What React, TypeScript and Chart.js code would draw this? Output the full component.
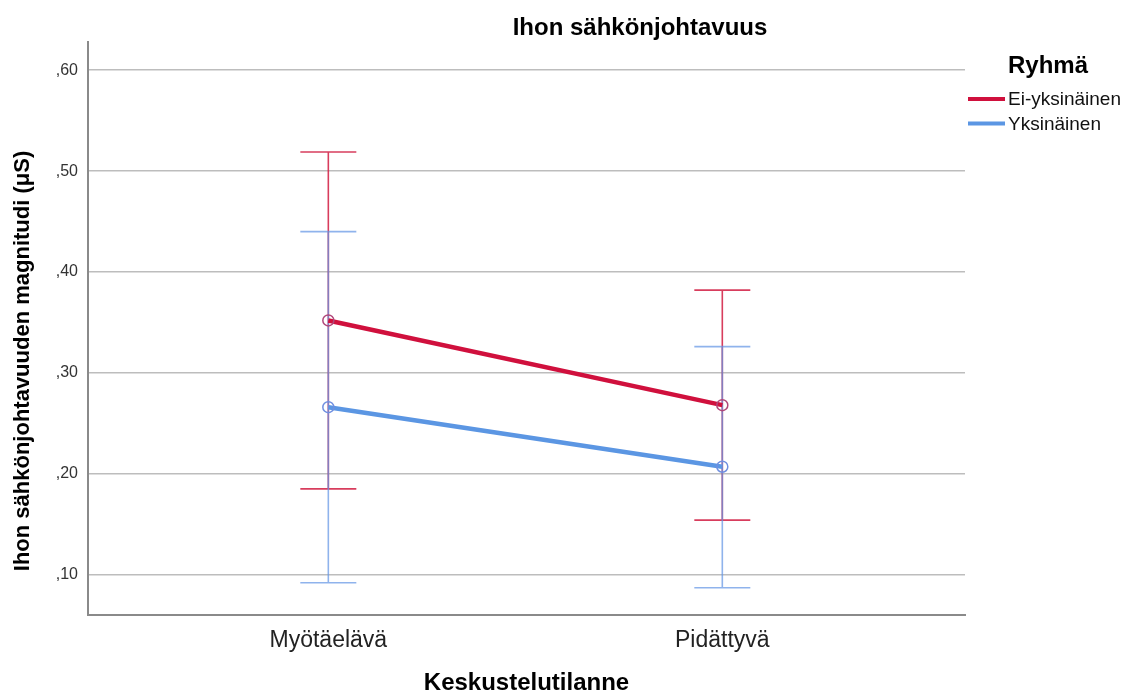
import React, { useEffect, useRef } from "react";
import { Chart, registerables } from "chart.js";

Chart.register(...registerables);

const categories = ["Myötäelävä", "Pidättyvä"];
const seriesNames = ["Ei-yksinäinen", "Yksinäinen"];
const eiMean = [0.352, 0.268];
const eiLower = [0.185, 0.154];
const eiUpper = [0.519, 0.382];
const yksMean = [0.266, 0.207];
const yksLower = [0.092, 0.087];
const yksUpper = [0.44, 0.326];
const yTicks = [0.1, 0.2, 0.3, 0.4, 0.5, 0.6];

const RED = "#d0103d";
const BLUE = "#5b96e3";
const FONT = "'Liberation Sans', Arial, sans-serif";

const errorBarPlugin = {
  id: "errorBars",
  beforeDatasetsDraw(chart: any) {
    const { ctx, scales } = chart;
    const xs = scales.x;
    const ys = scales.y;
    const groups = [
      { lo: eiLower, hi: eiUpper, color: "rgba(212,40,75,0.9)" },
      { lo: yksLower, hi: yksUpper, color: "rgba(100,150,228,0.72)" },
    ];
    ctx.save();
    ctx.lineWidth = 1.6;
    groups.forEach((g) => {
      ctx.strokeStyle = g.color;
      categories.forEach((_, i) => {
        const x = xs.getPixelForValue(i);
        const yl = ys.getPixelForValue(g.lo[i]);
        const yh = ys.getPixelForValue(g.hi[i]);
        ctx.beginPath();
        ctx.moveTo(x, yl);
        ctx.lineTo(x, yh);
        ctx.moveTo(x - 28, yl);
        ctx.lineTo(x + 28, yl);
        ctx.moveTo(x - 28, yh);
        ctx.lineTo(x + 28, yh);
        ctx.stroke();
      });
    });
    ctx.restore();
  },
  afterDraw(chart: any) {
    const { ctx } = chart;
    ctx.save();
    ctx.fillStyle = "#000";
    ctx.textBaseline = "alphabetic";
    ctx.textAlign = "center";
    ctx.font = `bold 24px ${FONT}`;
    ctx.fillText("Ihon sähkönjohtavuus", 640, 35);

    // y-axis title
    ctx.save();
    ctx.translate(23, 361);
    ctx.rotate(-Math.PI / 2);
    ctx.textBaseline = "middle";
    ctx.font = `bold 22px ${FONT}`;
    ctx.fillText("Ihon sähkönjohtavuuden magnitudi (μS)", 0, 0);
    ctx.restore();

    ctx.textAlign = "left";
    ctx.font = `bold 24px ${FONT}`;
    ctx.fillText("Ryhmä", 1008, 73);
    const items = [
      { name: seriesNames[0], color: RED, y: 99 },
      { name: seriesNames[1], color: BLUE, y: 123.5 },
    ];
    ctx.font = `19px ${FONT}`;
    ctx.textBaseline = "middle";
    items.forEach((it) => {
      ctx.strokeStyle = it.color;
      ctx.lineWidth = 4;
      ctx.beginPath();
      ctx.moveTo(968, it.y);
      ctx.lineTo(1005, it.y);
      ctx.stroke();
      ctx.fillStyle = "#111";
      ctx.fillText(it.name, 1008, it.y + 1);
    });
    ctx.restore();
  },
};

export default function App() {
  const ref = useRef<HTMLCanvasElement>(null);
  useEffect(() => {
    if (!ref.current) return;
    const chart = new Chart(ref.current, {
      type: "line",
      data: {
        datasets: [
          {
            label: seriesNames[0],
            data: eiMean.map((v, i) => ({ x: i, y: v })),
            borderColor: RED,
            borderWidth: 4.5,
            pointRadius: 5.5,
            pointBorderWidth: 1.5,
            pointBorderColor: "#b0477a",
            pointBackgroundColor: "rgba(0,0,0,0)",
          },
          {
            label: seriesNames[1],
            data: yksMean.map((v, i) => ({ x: i, y: v })),
            borderColor: BLUE,
            borderWidth: 4.5,
            pointRadius: 5.5,
            pointBorderWidth: 1.5,
            pointBorderColor: "#6f8fe0",
            pointBackgroundColor: "rgba(0,0,0,0)",
          },
        ],
      },
      options: {
        animation: false,
        responsive: false,
        layout: { padding: { left: 0, right: 167, top: 42, bottom: 0 } },
        plugins: { legend: { display: false }, tooltip: { enabled: false }, title: { display: false } },
        scales: {
          x: {
            type: "linear",
            min: -0.61,
            max: 1.616,
            afterBuildTicks: (s: any) => {
              s.ticks = categories.map((_, i) => ({ value: i }));
            },
            afterFit: (s: any) => {
              s.height = 85;
            },
            ticks: {
              callback: (v: any) => categories[v] ?? "",
              font: { family: FONT, size: 23 },
              color: "#222",
              padding: 12,
              maxRotation: 0,
            },
            grid: { display: false, drawTicks: false },
            border: { display: true, color: "#8a8a8a", width: 2 },
            title: {
              display: true,
              text: "Keskustelutilanne",
              font: { family: FONT, size: 24, weight: "bold" },
              color: "#000",
              padding: { top: 0, bottom: 2 },
            },
          },
          y: {
            type: "linear",
            min: 0.06,
            max: 0.628,
            afterBuildTicks: (s: any) => {
              s.ticks = yTicks.map((v) => ({ value: v }));
            },
            afterFit: (s: any) => {
              s.width = 88;
            },
            ticks: {
              callback: (v: any) => "," + Math.round(Number(v) * 100).toString().padStart(2, "0"),
              font: { family: FONT, size: 16 },
              color: "#333",
              padding: 10,
            },
            grid: { color: "#bdbdbd", lineWidth: 1.5, drawTicks: false },
            border: { display: true, color: "#8a8a8a", width: 2 },
            title: { display: false },
          },
        },
      },
      plugins: [errorBarPlugin],
    } as any);
    return () => chart.destroy();
  }, []);
  return (
    <div style={{ position: "fixed", left: 0, top: 0, width: 1132, height: 700, background: "#fff" }}>
      <canvas ref={ref} width={1132} height={700} style={{ width: 1132, height: 700 }} />
    </div>
  );
}
